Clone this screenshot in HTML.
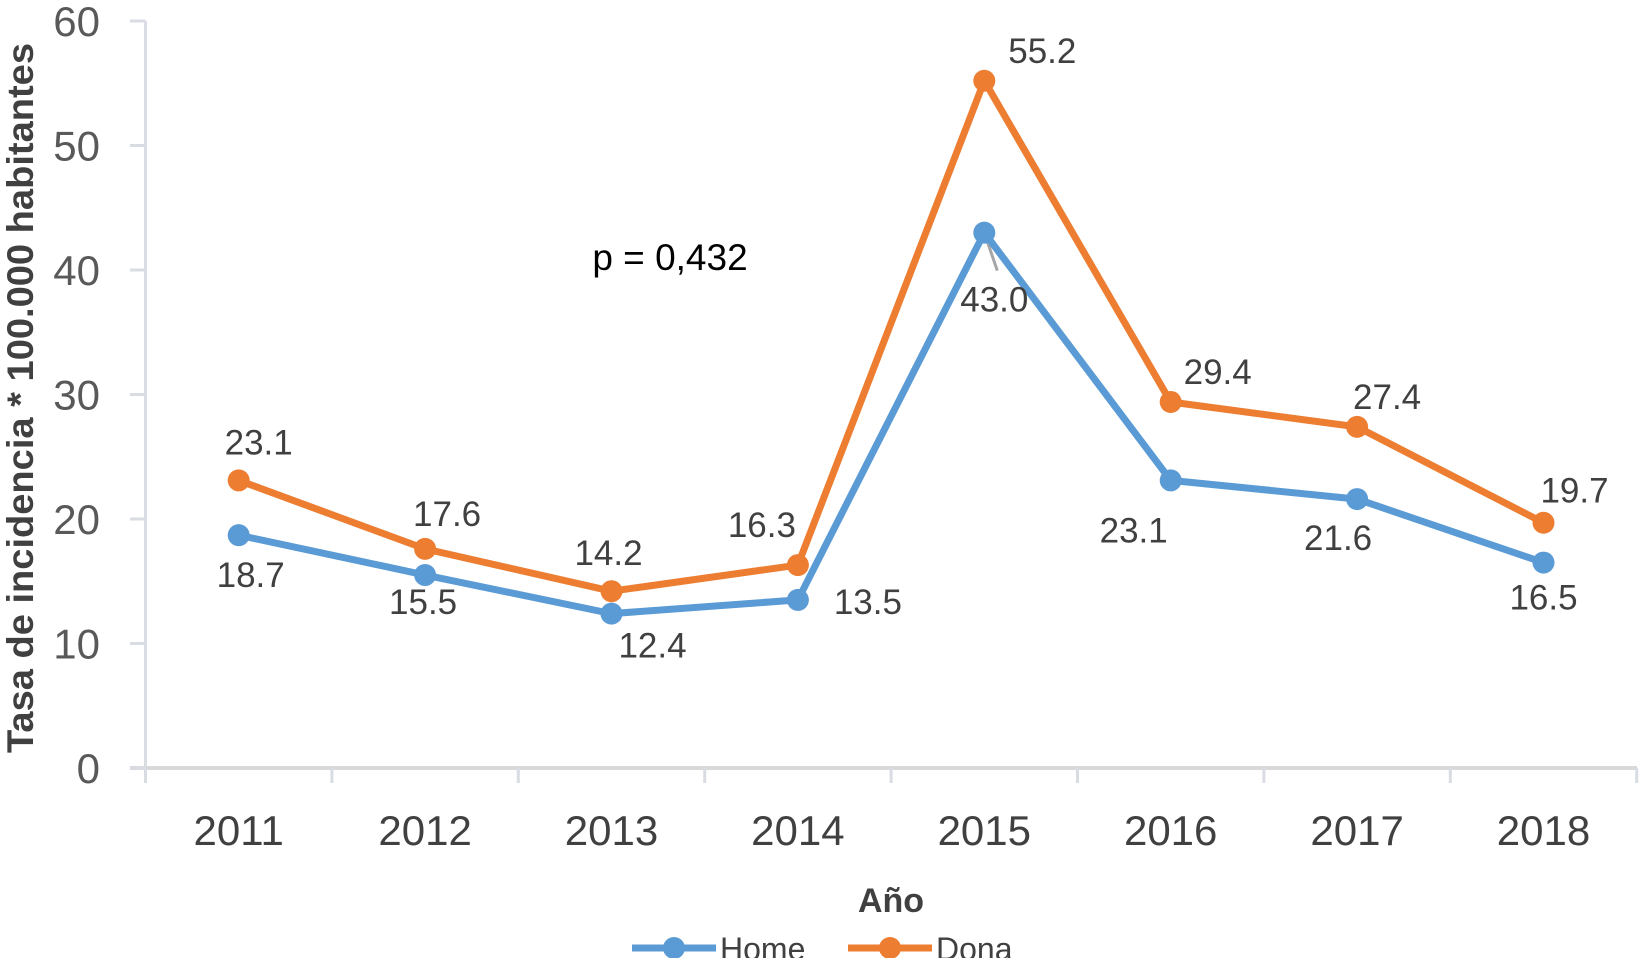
<!DOCTYPE html>
<html><head><meta charset="utf-8"><style>
body{margin:0;background:#fff}
svg{display:block}
text{font-family:"Liberation Sans",sans-serif}
</style></head><body>
<svg id="chart" width="1639" height="958" xmlns="http://www.w3.org/2000/svg"></svg>
<script>
const years=["2011","2012","2013","2014","2015","2016","2017","2018"];
const home=[18.7,15.5,12.4,13.5,43.0,23.1,21.6,16.5];
const dona=[23.1,17.6,14.2,16.3,55.2,29.4,27.4,19.7];
const yTicks=[0,10,20,30,40,50,60];
const NS="http://www.w3.org/2000/svg";
const svg=document.getElementById('chart');
const x0=145.5,step=186.4;
const X=i=>x0+step*(i+0.5);
const Y=v=>768-v*(747/60);
function el(t,a,p){const e=document.createElementNS(NS,t);for(const k in a)e.setAttribute(k,a[k]);(p||svg).appendChild(e);return e;}
const ax=el('g',{});


el('line',{x1:x0,y1:Y(60),x2:x0,y2:768,stroke:'#d9dce3','stroke-width':3},ax);
el('line',{x1:130,y1:768,x2:1637,y2:768,stroke:'#d9d9d9','stroke-width':4},ax);
yTicks.forEach(v=>{
 el('line',{x1:130,y1:Y(v),x2:x0,y2:Y(v),stroke:'#d9dce3','stroke-width':3},ax);
 const t=el('text',{x:100,y:Y(v)+15,'text-anchor':'end','font-size':42,fill:'#595959'},ax);
 t.textContent=v;
 
 
});
for(let i=0;i<=years.length;i++){el('line',{x1:x0+step*i,y1:768,x2:x0+step*i,y2:783,stroke:'#d9dce3','stroke-width':3},ax);}
years.forEach((y,i)=>{
 const t=el('text',{x:X(i),y:845,'text-anchor':'middle','font-size':42,fill:'#404040'},ax);
 t.textContent=y;
 
 
});
const xt=el('text',{x:891,y:912,'text-anchor':'middle','font-size':34,'font-weight':'bold',fill:'#404040'});
xt.textContent='Año';


const yt=el('text',{x:0,y:0,transform:'translate(33,398) rotate(-90)','text-anchor':'middle','font-size':37,'font-weight':'bold',fill:'#404040',textLength:710,lengthAdjust:'spacingAndGlyphs'});
yt.textContent='Tasa de incidencia * 100.000 habitantes';


const pt=el('text',{x:670,y:270,'text-anchor':'middle','font-size':37,fill:'#000'});
pt.textContent='p = 0,432';


el('line',{x1:X(4),y1:Y(home[4]),x2:X(4)+13,y2:Y(home[4])+38,stroke:'#a6a6a6','stroke-width':3});
function series(vals,color,name){
 const g=el('g',{});
 
 
 el('polyline',{points:vals.map((v,i)=>X(i)+','+Y(v)).join(' '),fill:'none',stroke:color,'stroke-width':7,'stroke-linejoin':'round'},g);
 vals.forEach((v,i)=>{
  const c=el('circle',{cx:X(i),cy:Y(v),r:11,fill:color},g);
  
  
 });
}
series(home,'#5b9bd5','home');
series(dona,'#ed7d31','dona');
const donaOff=[[20,-38],[22,-35],[-3,-38],[-36,-40],[58,-30],[47,-30],[30,-30],[31,-32]];
const homeOff=[[12,40],[-2,27],[41,32],[70,2],[10,67],[-37,50],[-19,39],[0,35]];
function labels(vals,offs,name){
 vals.forEach((v,i)=>{
  const t=el('text',{x:X(i)+offs[i][0],y:Y(v)+offs[i][1]+12,'text-anchor':'middle','font-size':35,fill:'#404040'});
  t.textContent=v.toFixed(1);
  
  
 });
}
labels(dona,donaOff,'dona');
labels(home,homeOff,'home');
const lg=el('g',{});


[['Home','#5b9bd5',632],['Dona','#ed7d31',848]].forEach(([n,c,x])=>{
 const e=el('g',{},lg);
 
 
 el('line',{x1:x,y1:948,x2:x+84,y2:948,stroke:c,'stroke-width':7},e);
 el('circle',{cx:x+42,cy:948,r:11,fill:c},e);
 const t=el('text',{x:x+88,y:960,'font-size':32,fill:'#404040'},e);
 t.textContent=n;
});
</script>
</body></html>
